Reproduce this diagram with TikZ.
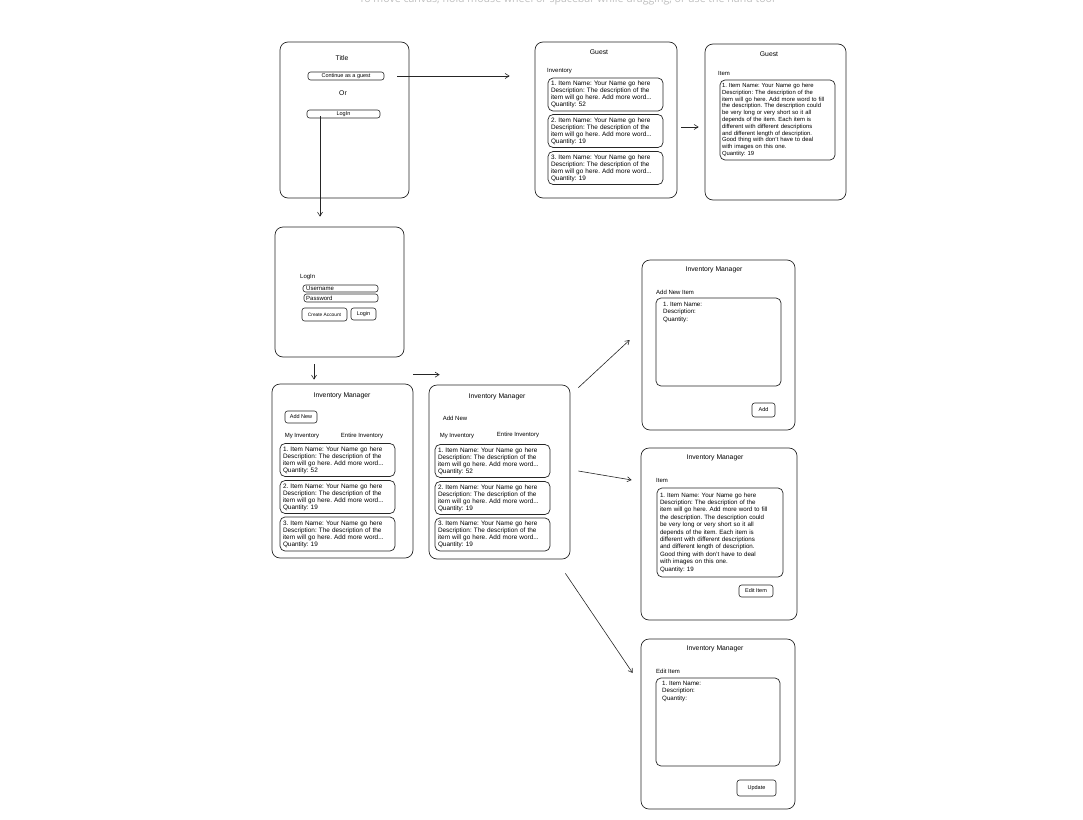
\documentclass[tikz,border=0pt]{standalone}
\usepackage{fontspec}
\setmainfont{Liberation Sans}
\newfontfamily\hintfont{Open Sans}
\usetikzlibrary{arrows.meta}
\frenchspacing

\tikzset{
  screen/.style={draw=black!85, line width=0.7pt, rounded corners=8pt, inner sep=0pt},
  itembox/.style={draw=black!85, line width=0.7pt, rounded corners=5pt, align=left,
    font=\fontsize{6.4}{7}\selectfont, inner sep=3pt, text width=109pt, minimum width=115pt},
  btn/.style={draw=black!85, line width=0.6pt, rounded corners=2.5pt,
    font=\fontsize{5.5}{6}\selectfont, inner sep=0pt},
  head/.style={font=\fontsize{6.8}{7}\selectfont, inner sep=0pt},
  lbl/.style={font=\fontsize{6}{6.5}\selectfont, inner sep=0pt, anchor=west},
  flow/.style={draw=black!85, line width=0.6pt, -{Straight Barb[length=4pt,width=5pt]}},
}

\newcommand{\itemtxt}[2]{#1. Item Name: Your Name go here\\Description: The description of the\\item will go here. Add more word...\\Quantity: #2}
\newcommand{\longtxt}{1. Item Name: Your Name go here\\Description: The description of the\\item will go here. Add more word to fill\\the description. The description could\\be very long or very short so it all\\depends of the item. Each item is\\different with different descriptions\\and different length of description.\\Good thing with don't have to deal\\with images on this one.\\Quantity: 19}

\begin{document}
\begin{tikzpicture}[x=1pt,y=-1pt]
\useasboundingbox (0,0) rectangle (1083,819);

\node[font=\hintfont\fontsize{10.6}{12}\selectfont, text=black!25, anchor=base] (hint) at (567,2.5)
  {To move canvas, hold mouse wheel or spacebar while dragging, or use the hand tool};

% start screen
\node[screen, minimum width=129pt, minimum height=156pt] (start) at (344.5,120) {};
\node[head] (starttitle) at (342,58) {Title};
\node[btn, minimum width=76pt, minimum height=8pt] (cont) at (346,76) {Continue as a guest};
\node[head] (or) at (343,93) {Or};
\node[btn, minimum width=73pt, minimum height=8pt] (loginbtn) at (343.5,114) {LogIn};

% guest inventory
\node[screen, minimum width=142pt, minimum height=156pt] (guest) at (606,120) {};
\node[head] (guesttitle) at (599,52) {Guest};
\node[lbl] (guestinv) at (547,71) {Inventory};
\node[itembox, minimum height=33pt] (g1) at (605.5,94.5) {\itemtxt{1}{52}};
\node[itembox, minimum height=32pt] (g2) at (605.5,131) {\itemtxt{2}{19}};
\node[itembox, minimum height=32pt] (g3) at (605.5,168) {\itemtxt{3}{19}};

% guest item
\node[screen, minimum width=141pt, minimum height=156pt] (gitem) at (775.5,122) {};
\node[head] (gitemtitle) at (769,54) {Guest};
\node[lbl] (gitemlbl) at (718,73) {Item};
\node[itembox, font=\fontsize{5.9}{6.8}\selectfont, inner sep=2pt, text width=111pt, minimum height=80pt] (gbig) at (777.5,120) {\longtxt};

% login screen
\node[screen, minimum width=129pt, minimum height=130pt] (login) at (339.5,292) {};
\node[lbl] (logintitle) at (300,277) {LogIn};
\node[btn, minimum width=75pt, minimum height=7pt] (user) at (340.5,288.5) {};
\node[lbl] (usertxt) at (306,288.5) {Username};
\node[btn, minimum width=74pt, minimum height=8pt] (pass) at (341,298) {};
\node[lbl] (passtxt) at (306,298) {Password};
\node[btn, minimum width=45pt, minimum height=13pt, font=\fontsize{4.8}{5}\selectfont] (create) at (324.5,314.5) {Create Account};
\node[btn, minimum width=25pt, minimum height=12pt] (loginok) at (363.5,314) {Login};

% inventory manager, own items
\node[screen, minimum width=141pt, minimum height=174pt] (ima) at (342.5,471) {};
\node[head] (imatitle) at (342,396) {Inventory Manager};
\node[btn, minimum width=32pt, minimum height=12pt] (addnew) at (301,417) {Add New};
\node[head, font=\fontsize{6}{6.5}\selectfont] (imamy) at (302,436) {My Inventory};
\node[head, font=\fontsize{6}{6.5}\selectfont] (imaall) at (362,436) {Entire Inventory};
\node[itembox, minimum height=32pt] (a1) at (337.5,460) {\itemtxt{1}{52}};
\node[itembox, minimum height=32pt] (a2) at (337.5,497) {\itemtxt{2}{19}};
\node[itembox, minimum height=34pt] (a3) at (337.5,534) {\itemtxt{3}{19}};

% inventory manager, entire inventory
\node[screen, minimum width=141pt, minimum height=174pt] (imb) at (499.5,472) {};
\node[head] (imbtitle) at (497,397) {Inventory Manager};
\node[head, font=\fontsize{6}{6.5}\selectfont] (imbadd) at (455,418) {Add New};
\node[head, font=\fontsize{6}{6.5}\selectfont] (imbmy) at (457,436) {My Inventory};
\node[head, font=\fontsize{6}{6.5}\selectfont] (imball) at (518,435) {Entire Inventory};
\node[itembox, minimum height=32pt] (b1) at (492.5,461) {\itemtxt{1}{52}};
\node[itembox, minimum height=32pt] (b2) at (492.5,498) {\itemtxt{2}{19}};
\node[itembox, minimum height=33pt] (b3) at (492.5,534.5) {\itemtxt{3}{19}};

% add new item
\node[screen, minimum width=153pt, minimum height=170pt] (add) at (718.5,345) {};
\node[head] (addtitle) at (714,270) {Inventory Manager};
\node[lbl] (addlbl) at (656,292) {Add New Item};
\node[itembox, text width=119pt, minimum width=125pt, minimum height=88pt] (addbox) at (718.5,342) {};
\node[lbl, anchor=north west, align=left, font=\fontsize{6.2}{7.5}\selectfont] (addtxt) at (663,302) {1. Item Name:\\Description:\\Quantity:};
\node[btn, minimum width=23pt, minimum height=14pt] (addok) at (763.5,410) {Add};

% item detail
\node[screen, minimum width=156pt, minimum height=172pt] (item) at (719,534) {};
\node[head] (itemtitle) at (715,458) {Inventory Manager};
\node[lbl] (itemlbl) at (656,480) {Item};
\node[itembox, font=\fontsize{6.2}{7.4}\selectfont, text width=120pt, minimum width=126pt, minimum height=89pt] (itembox) at (720,532.5) {\longtxt};
\node[btn, minimum width=34pt, minimum height=12pt] (editbtn) at (756,591) {Edit Item};

% edit item
\node[screen, minimum width=154pt, minimum height=170pt] (edit) at (718,724) {};
\node[head] (edittitle) at (715,649) {Inventory Manager};
\node[lbl] (editlbl) at (656,671) {Edit Item};
\node[itembox, text width=118pt, minimum width=124pt, minimum height=88pt] (editbox) at (718,722) {};
\node[lbl, anchor=north west, align=left, font=\fontsize{6.2}{7.5}\selectfont] (edittxt) at (662,681) {1. Item Name:\\Description:\\Quantity:};
\node[btn, minimum width=39pt, minimum height=16pt] (update) at (756.5,788) {Update};

% connectors
\draw[flow, shorten <=13pt, shorten >=25pt] (cont.east) -- (cont.east -| guest.west);
\coordinate (down) at (320,116);
\draw[flow, shorten >=10pt] (down) -- (down |- login.north);
\draw[flow] ([shift={(4,7)}]guest.east) -- ([shift={(-6,5)}]gitem.west);
\draw[flow] ([shift={(-25.5,7)}]login.south) -- ([shift={(-28.5,-4)}]ima.north);
\draw[flow] ([shift={(0,-9)}]ima.north east) -- ([shift={(11,-10)}]imb.north west);
\draw[flow] ([shift={(8,3)}]imb.north east) -- ([shift={(-12,-5)}]add.west);
\draw[flow] ([shift={(8,-1)}]imb.east) -- ([shift={(-9,-54)}]item.west);
\draw[flow] ([shift={(-5,14)}]imb.south east) -- ([shift={(-8,-51)}]edit.west);
\end{tikzpicture}
\end{document}
